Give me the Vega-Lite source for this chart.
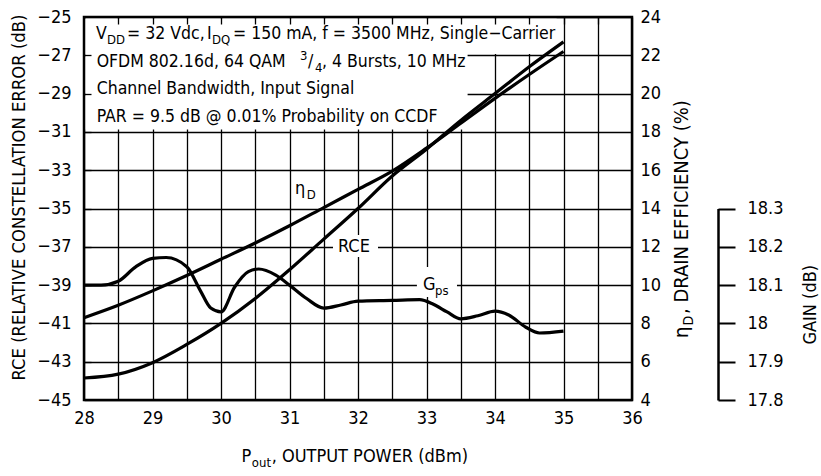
{
  "$schema": "https://vega.github.io/schema/vega-lite/v6.json",
  "width": 548,
  "height": 383,
  "autosize": {"type": "none"},
  "padding": {"left": 84, "top": 17, "right": 189, "bottom": 76},
  "background": "white",
  "config": {
    "font": "Liberation Sans Narrow, Arial Narrow, DejaVu Sans Condensed, sans-serif",
    "view": {"stroke": "#000", "strokeWidth": 2.5},
    "axis": {
      "labelColor": "#000", "titleColor": "#000", "labelFontSize": 18, "titleFontSize": 18,
      "titleFontWeight": "normal", "domainColor": "#000", "tickColor": "#000",
      "gridColor": "#000", "gridOpacity": 1, "gridWidth": 1.3, "labelOverlap": false,
      "labelFont": "Liberation Sans Narrow, Arial Narrow, DejaVu Sans Condensed, sans-serif",
      "titleFont": "Liberation Sans Narrow, Arial Narrow, DejaVu Sans Condensed, sans-serif"
    }
  },
  "datasets": {
    "rce": [
      {"P": 28, "RCE": -43.85}, {"P": 28.5, "RCE": -43.65}, {"P": 29, "RCE": -43.05},
      {"P": 29.5, "RCE": -42.1}, {"P": 30, "RCE": -41.0}, {"P": 30.5, "RCE": -39.7},
      {"P": 31, "RCE": -38.2}, {"P": 31.5, "RCE": -36.6}, {"P": 32, "RCE": -35.0},
      {"P": 32.5, "RCE": -33.3}, {"P": 33, "RCE": -31.9}, {"P": 33.5, "RCE": -30.4},
      {"P": 34, "RCE": -29.0}, {"P": 34.5, "RCE": -27.6}, {"P": 35, "RCE": -26.3}
    ],
    "eff": [
      {"P": 28, "Eff": 8.3}, {"P": 28.5, "Eff": 8.95}, {"P": 29, "Eff": 9.7},
      {"P": 29.5, "Eff": 10.5}, {"P": 30, "Eff": 11.35}, {"P": 30.5, "Eff": 12.2},
      {"P": 31, "Eff": 13.1}, {"P": 31.5, "Eff": 14.05}, {"P": 32, "Eff": 15.0},
      {"P": 32.5, "Eff": 15.95}, {"P": 33, "Eff": 17.15}, {"P": 33.5, "Eff": 18.45},
      {"P": 34, "Eff": 19.75}, {"P": 34.5, "Eff": 21.0}, {"P": 35, "Eff": 22.2}
    ],
    "gain": [
      {"P": 28, "Gain": 18.1}, {"P": 28.25, "Gain": 18.1}, {"P": 28.5, "Gain": 18.11},
      {"P": 28.75, "Gain": 18.147}, {"P": 29, "Gain": 18.17}, {"P": 29.2, "Gain": 18.172},
      {"P": 29.5, "Gain": 18.148}, {"P": 29.7, "Gain": 18.085}, {"P": 29.85, "Gain": 18.04},
      {"P": 30, "Gain": 18.03}, {"P": 30.2, "Gain": 18.095}, {"P": 30.4, "Gain": 18.135},
      {"P": 30.55, "Gain": 18.142}, {"P": 30.8, "Gain": 18.126}, {"P": 31, "Gain": 18.1},
      {"P": 31.25, "Gain": 18.065}, {"P": 31.5, "Gain": 18.04}, {"P": 31.75, "Gain": 18.048},
      {"P": 32, "Gain": 18.058}, {"P": 32.5, "Gain": 18.06}, {"P": 32.9, "Gain": 18.062},
      {"P": 33.1, "Gain": 18.05}, {"P": 33.3, "Gain": 18.03}, {"P": 33.5, "Gain": 18.012},
      {"P": 33.75, "Gain": 18.02}, {"P": 34, "Gain": 18.032}, {"P": 34.2, "Gain": 18.022},
      {"P": 34.45, "Gain": 17.99}, {"P": 34.65, "Gain": 17.975}, {"P": 35, "Gain": 17.98}
    ],
    "mask": [
      {"P": 28.025, "P2": 34.9, "v": -25.09, "v2": -26.93},
      {"P": 28.025, "P2": 33.6, "v": -26.93, "v2": -30.88},
      {"P": 31.635, "P2": 32.292, "v": -36.38, "v2": -37.53},
      {"P": 32.86, "P2": 33.445, "v": -38.05, "v2": -39.62}
    ],
    "box": [
      {"P": 28.175, "v": -26.15, "t": "V"},
      {"P": 28.628, "v": -26.15, "t": "= 32 Vdc,"},
      {"P": 29.796, "v": -26.15, "t": "I"},
      {"P": 30.175, "v": -26.15, "t": "= 150 mA, f = 3500 MHz, Single−Carrier"},
      {"P": 28.185, "v": -27.59, "t": "OFDM 802.16d, 64 QAM"},
      {"P": 31.27, "v": -27.59, "t": "/"},
      {"P": 31.474, "v": -27.59, "t": ", 4 Bursts, 10 MHz"},
      {"P": 28.185, "v": -29.04, "t": "Channel Bandwidth, Input Signal"},
      {"P": 28.185, "v": -30.47, "t": "PAR = 9.5 dB @ 0.01% Probability on CCDF"}
    ],
    "txt": [
      {"P": 31.08, "v": -34.24, "t": "η"},
      {"P": 31.708, "v": -37.27, "t": "RCE"},
      {"P": 32.95, "v": -39.26, "t": "G"},
      {"P": 30.3, "v": -48.24, "t": "P"},
      {"P": 30.74, "v": -48.24, "t": ", OUTPUT POWER (dBm)"}
    ],
    "txtSub": [
      {"P": 28.336, "v": -26.15, "t": "DD"},
      {"P": 29.869, "v": -26.15, "t": "DQ"},
      {"P": 31.372, "v": -27.59, "t": "4"},
      {"P": 31.25, "v": -34.24, "t": "D"},
      {"P": 33.125, "v": -39.26, "t": "ps"},
      {"P": 30.45, "v": -48.24, "t": "out"}
    ],
    "txtSup": [
      {"P": 31.153, "v": -27.59, "t": "3"}
    ],
    "rot": [
      {"P": 36.82, "v": -41.76, "t": "η"},
      {"P": 36.82, "v": -40.51, "t": ", DRAIN EFFICIENCY (%)"}
    ],
    "rotSub": [
      {"P": 36.82, "v": -41.11, "t": "D"}
    ]
  },
  "resolve": {"scale": {"y": "independent"}, "axis": {"x": "independent"}},
  "layer": [
    {
      "data": {"name": "rce"},
      "mark": {"type": "point", "opacity": 0},
      "encoding": {
        "x": {
          "field": "P", "type": "quantitative", "scale": {"domain": [28, 36]},
          "axis": {
            "orient": "bottom", "values": [28, 28.5, 29, 29.5, 30, 30.5, 31, 31.5, 32, 32.5, 33, 33.5, 34, 34.5, 35, 35.5, 36],
            "labelExpr": "datum.value % 1 == 0 ? '' + datum.value : ''",
            "grid": true, "ticks": false, "domain": false, "labelPadding": 9, "labelFlush": false, "title": null
          }
        },
        "y": {
          "field": "RCE", "type": "quantitative", "scale": {"domain": [-45, -25]},
          "axis": {
            "orient": "left", "values": [-45, -43, -41, -39, -37, -35, -33, -31, -29, -27, -25],
            "grid": true, "ticks": false, "domain": false, "labelPadding": 13,
            "title": "RCE (RELATIVE CONSTELLATION ERROR (dB)", "titleFontSize": 18.3,
            "titleX": -56, "titleY": 180
          }
        }
      }
    },
    {
      "data": {"name": "mask"},
      "mark": {"type": "rect", "fill": "white", "stroke": null},
      "encoding": {
        "x": {"field": "P", "type": "quantitative", "scale": {"domain": [28, 36]}, "axis": null},
        "x2": {"field": "P2"},
        "y": {"field": "v", "type": "quantitative", "scale": {"domain": [-45, -25]}, "axis": null},
        "y2": {"field": "v2"}
      }
    },
    {
      "data": {"name": "box"},
      "mark": {"type": "text", "align": "left", "baseline": "alphabetic", "fontSize": 17.5, "color": "#000"},
      "encoding": {
        "x": {"field": "P", "type": "quantitative", "scale": {"domain": [28, 36]}, "axis": null},
        "y": {"field": "v", "type": "quantitative", "scale": {"domain": [-45, -25]}, "axis": null},
        "text": {"field": "t"}
      }
    },
    {
      "data": {"name": "txt"},
      "mark": {"type": "text", "align": "left", "baseline": "alphabetic", "fontSize": 18, "color": "#000"},
      "encoding": {
        "x": {"field": "P", "type": "quantitative", "scale": {"domain": [28, 36]}, "axis": null},
        "y": {"field": "v", "type": "quantitative", "scale": {"domain": [-45, -25]}, "axis": null},
        "text": {"field": "t"}
      }
    },
    {
      "data": {"name": "txtSub"},
      "mark": {"type": "text", "align": "left", "baseline": "alphabetic", "fontSize": 13, "dy": 5, "color": "#000"},
      "encoding": {
        "x": {"field": "P", "type": "quantitative", "scale": {"domain": [28, 36]}, "axis": null},
        "y": {"field": "v", "type": "quantitative", "scale": {"domain": [-45, -25]}, "axis": null},
        "text": {"field": "t"}
      }
    },
    {
      "data": {"name": "txtSup"},
      "mark": {"type": "text", "align": "left", "baseline": "alphabetic", "fontSize": 13, "dy": -7, "color": "#000"},
      "encoding": {
        "x": {"field": "P", "type": "quantitative", "scale": {"domain": [28, 36]}, "axis": null},
        "y": {"field": "v", "type": "quantitative", "scale": {"domain": [-45, -25]}, "axis": null},
        "text": {"field": "t"}
      }
    },
    {
      "data": {"name": "rot"},
      "mark": {"type": "text", "align": "left", "baseline": "alphabetic", "fontSize": 20, "angle": 270, "color": "#000"},
      "encoding": {
        "x": {"field": "P", "type": "quantitative", "scale": {"domain": [28, 36]}, "axis": null},
        "y": {"field": "v", "type": "quantitative", "scale": {"domain": [-45, -25]}, "axis": null},
        "text": {"field": "t"}
      }
    },
    {
      "data": {"name": "rotSub"},
      "mark": {"type": "text", "align": "left", "baseline": "alphabetic", "fontSize": 14, "angle": 270, "dy": 5, "color": "#000"},
      "encoding": {
        "x": {"field": "P", "type": "quantitative", "scale": {"domain": [28, 36]}, "axis": null},
        "y": {"field": "v", "type": "quantitative", "scale": {"domain": [-45, -25]}, "axis": null},
        "text": {"field": "t"}
      }
    },
    {
      "data": {"name": "rce"},
      "mark": {"type": "line", "color": "#000", "strokeWidth": 3.2, "interpolate": "monotone"},
      "encoding": {
        "x": {"field": "P", "type": "quantitative", "scale": {"domain": [28, 36]}, "axis": null},
        "y": {"field": "RCE", "type": "quantitative", "scale": {"domain": [-45, -25]}, "axis": null}
      }
    },
    {
      "data": {"name": "eff"},
      "mark": {"type": "line", "color": "#000", "strokeWidth": 3.2, "interpolate": "monotone"},
      "encoding": {
        "x": {"field": "P", "type": "quantitative", "scale": {"domain": [28, 36]}, "axis": null},
        "y": {
          "field": "Eff", "type": "quantitative", "scale": {"domain": [4, 24]},
          "axis": {
            "orient": "right", "values": [4, 6, 8, 10, 12, 14, 16, 18, 20, 22, 24],
            "grid": false, "ticks": false, "domain": false, "labelPadding": 8, "title": null
          }
        }
      }
    },
    {
      "data": {"name": "gain"},
      "mark": {"type": "line", "color": "#000", "strokeWidth": 3.2, "interpolate": "monotone"},
      "encoding": {
        "x": {"field": "P", "type": "quantitative", "scale": {"domain": [28, 36]}, "axis": null},
        "y": {
          "field": "Gain", "type": "quantitative", "scale": {"domain": [17.8, 18.3], "range": [383, 191.5]},
          "axis": {
            "orient": "right", "offset": 86, "values": [17.8, 17.9, 18, 18.1, 18.2, 18.3],
            "labelExpr": "'' + datum.value",
            "grid": false, "ticks": true, "tickSize": 17, "tickWidth": 2, "domain": true, "domainWidth": 2.5,
            "labelPadding": 12, "title": "GAIN (dB)", "titleAngle": 270, "titlePadding": 36
          }
        }
      }
    },
    {
      "data": {"values": [{"P": 28}]},
      "mark": {"type": "point", "opacity": 0},
      "encoding": {
        "x": {
          "field": "P", "type": "quantitative", "scale": {"domain": [28, 36]},
          "axis": {
            "orient": "top", "offset": -7, "values": [28.5, 29, 29.5, 30, 30.5, 31, 31.5, 32, 32.5, 33, 33.5, 34, 34.5, 35, 35.5],
            "labels": false, "domain": false, "grid": false, "ticks": true, "tickSize": 7, "tickWidth": 1.3, "zindex": 1, "title": null
          }
        }
      }
    },
    {
      "data": {"values": [{"v": -35}]},
      "mark": {"type": "point", "opacity": 0},
      "encoding": {
        "y": {
          "field": "v", "type": "quantitative", "scale": {"domain": [-45, -25]},
          "axis": {
            "orient": "left", "offset": -7, "values": [-43, -41, -39, -37, -35, -33, -31, -29, -27],
            "labels": false, "domain": false, "grid": false, "ticks": true, "tickSize": 7, "tickWidth": 1.3, "zindex": 1, "title": null
          }
        }
      }
    }
  ]
}
